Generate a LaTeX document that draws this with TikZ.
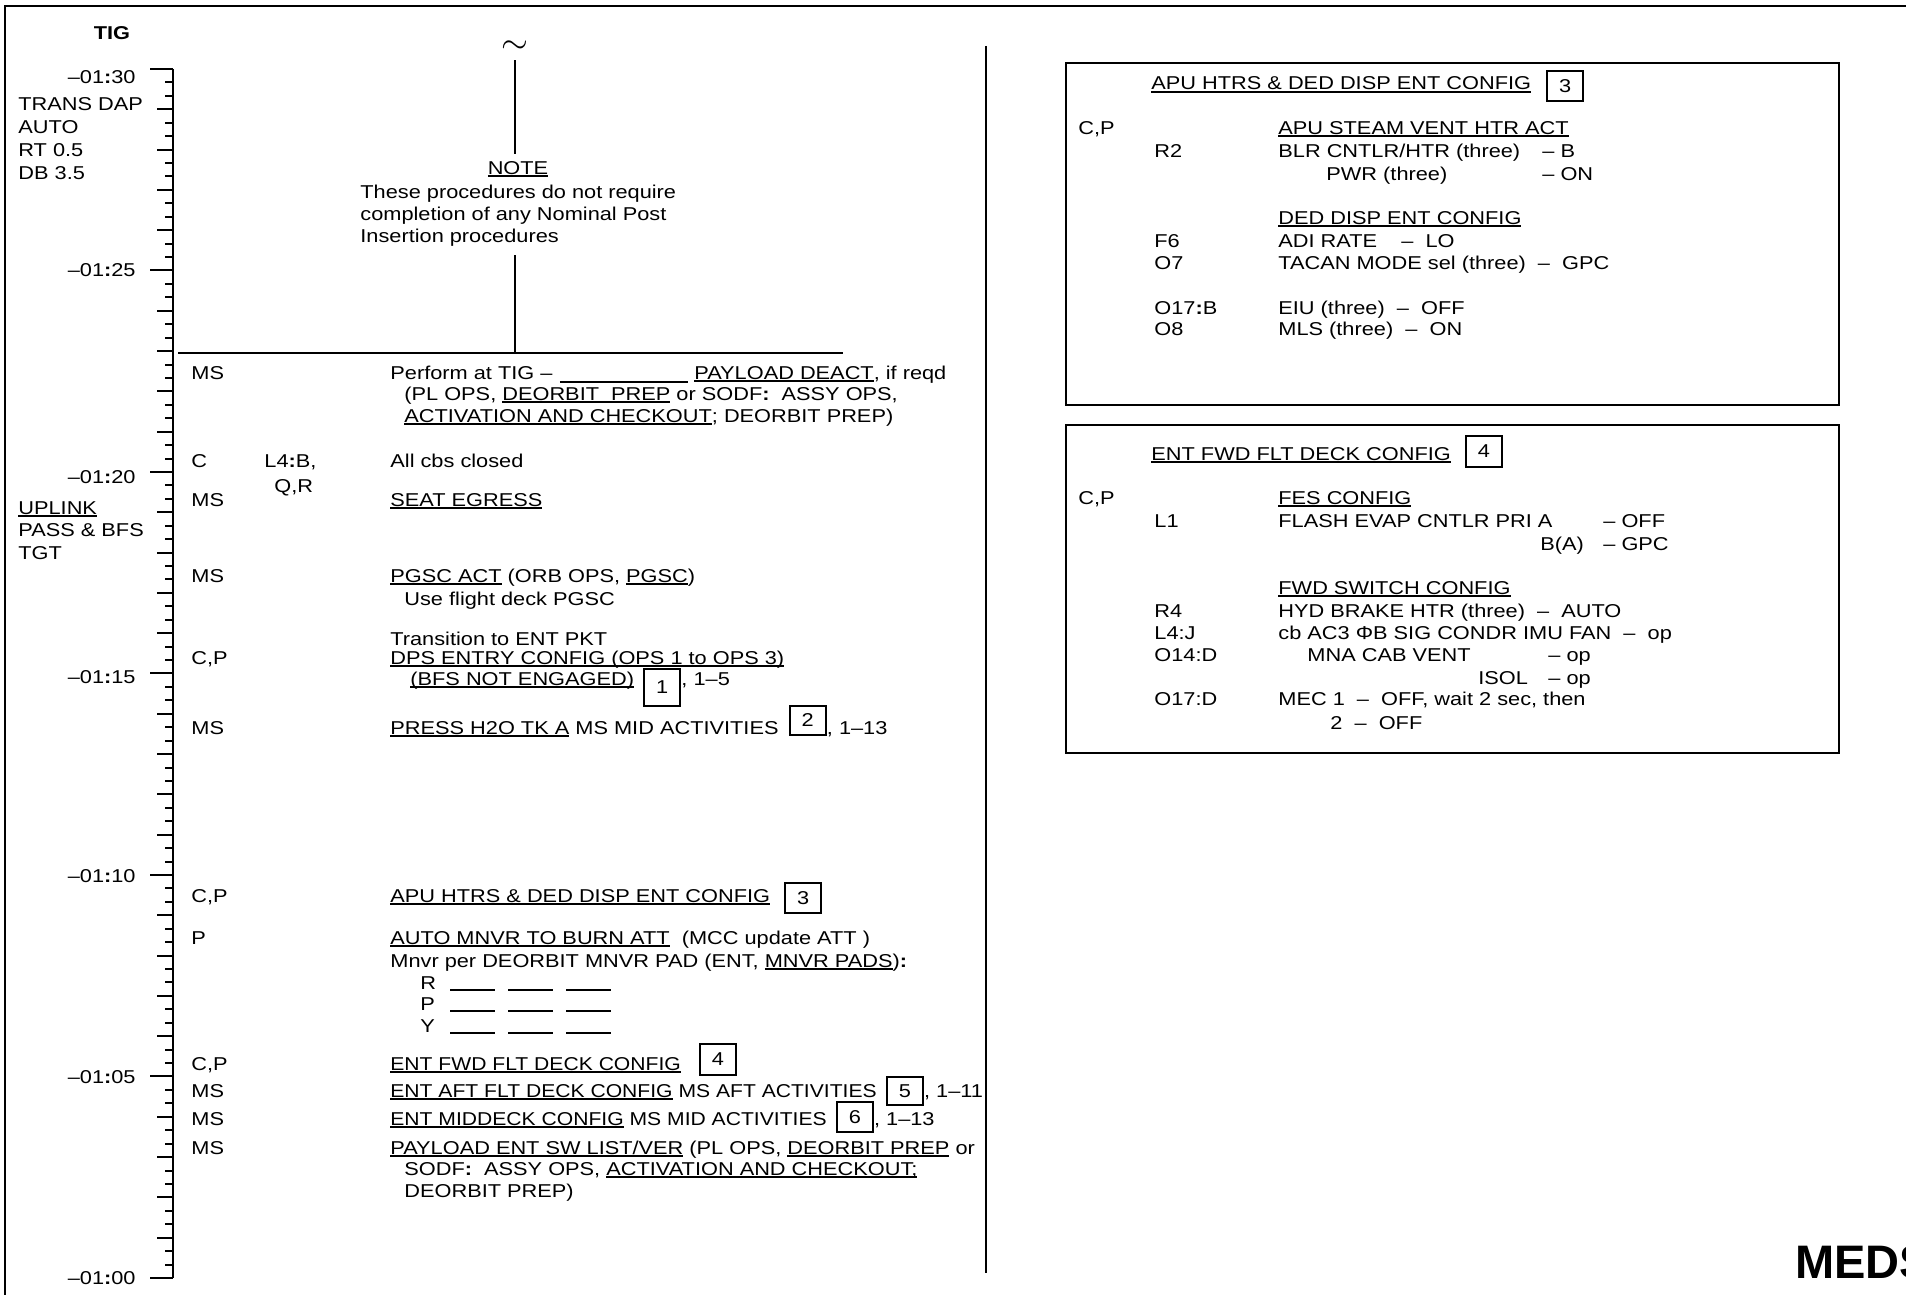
\documentclass[tikz,border=0pt]{standalone}
\usepackage{fontspec}
\setmainfont{Liberation Sans}[FakeStretch=1.17]
\newfontfamily\medsfont{Liberation Sans}
\usepackage{tikz}
\usetikzlibrary{positioning,calc}

% underline at a fixed depth
\newcommand{\und}[1]{\setbox0\hbox{#1}\rlap{\rule[-1.3pt]{\wd0}{0.65pt}}\box0\relax}
\newcommand{\bc}{\textbf{:}}
\newcommand{\dd}{\ \ –\ \ }
\newcommand{\narrow}[1]{\scalebox{0.97}[1]{#1}}

\tikzset{
  txt/.style={anchor=base west, inner sep=0pt, align=left},
  lbl/.style={anchor=east, inner sep=0pt},
  numbox/.style={draw, line width=0.8pt, minimum width=18pt, minimum height=15pt, inner sep=0pt, anchor=west},
  rule/.style={line width=1pt},
}

\begin{document}
\begin{tikzpicture}[x=0.5pt,y=-0.5pt,font=\fontsize{9.3}{11}\selectfont]
\useasboundingbox (0,0) rectangle (1906,1295);
\clip (0,0) rectangle (1906,1295);
% outer frame
\draw[line width=1.2pt] (5,1400) -- (5,6) -- (2000,6);

% time scale
\node[font=\fontsize{9.3}{11}\selectfont\bfseries] (tig) at (112,33) {TIG};
\draw[rule] (173,69) -- (173,1278);
\foreach \i in {0,...,90}{
  \pgfmathsetmacro{\ty}{69+\i*13.433}
  \pgfmathsetmacro{\tl}{ifthenelse(mod(\i,15)==0,23,ifthenelse(mod(\i,3)==0,16,8))}
  \draw[rule] (173-\tl,\ty) -- (173,\ty);
}
\foreach \m/\dy [count=\k from 0] in {30/8,25/0,20/5,15/4,10/1,05/1,00/0}{
  \pgfmathsetmacro{\ly}{69+\k*201.5+\dy}
  \node[lbl] (t\m) at (136,\ly) {–01\bc\m};
}

% notes left of the scale (multi-line nodes sit on their last line)
\node[txt, font=\fontsize{9.3}{11.5}\selectfont] (dap) at (18,179) {TRANS DAP\\AUTO\\RT 0.5\\DB 3.5};
\node[txt, font=\fontsize{9.3}{11.25}\selectfont] (uplink) at (18,559) {\und{UPLINK}\\PASS \& BFS\\TGT};

% note at the top
\node[font=\fontsize{17}{17}\selectfont] (tilde) at (515,47) {$\sim$};
\node (note) at (518,169) {\und{NOTE}};
\node[txt, font=\fontsize{9.3}{10.75}\selectfont] (notebody) at (360,242) {These procedures do not require\\completion of any Nominal Post\\Insertion procedures};
\coordinate (hlw) at (178,353);
\coordinate (hle) at (843,353);
\coordinate (nb) at ($(notebody.south)+(0,9)$);
\draw[rule] (hlw) -- (hle);
\draw[rule] (tilde.south) -- (tilde.south |- note.north);
\draw[rule] (tilde.south |- nb) -- (tilde.south |- hlw);

% procedure column
\node[txt] (ms1) at (191,379) {MS};
\node[txt] (tig1) at (390,379) {Perform at TIG –};
\node[txt] (deact) at (694,379) {\und{PAYLOAD DEACT}, if reqd};
\draw[line width=0.65pt] ($(tig1.base east)+(7,3)$) -- ($(deact.base west)+(-6,3)$);
\node[txt] (plops) at (404,422) {(PL OPS, \und{DEORBIT\ \ PREP} or SODF\bc\ \ ASSY OPS,\\\und{ACTIVATION AND CHECKOUT}; DEORBIT PREP)};

\node[txt] (c1) at (191,467) {C};
\node[txt] (l4b) at (264,467) {L4\bc B,};
\node[txt] (qr) at (274,492) {Q,R};
\node[txt] (cbs) at (390,467) {All cbs closed};
\node[txt] (ms2) at (191,506) {MS};
\node[txt] (egress) at (390,506) {\und{SEAT EGRESS}};

\node[txt] (ms3) at (191,582) {MS};
\node[txt] (pgsc) at (390,582) {\und{PGSC ACT} (ORB OPS, \und{PGSC})};
\node[txt] (pgsc2) at (404,605) {Use flight deck PGSC};
\node[txt] (trans) at (390,645) {Transition to ENT PKT};
\node[txt] (cp1) at (191,664) {C,P};
\node[txt] (dps) at (390,664) {\und{DPS ENTRY CONFIG (OPS 1 to OPS 3)}};
\node[txt] (dps2) at (410,685) {\und{(BFS NOT ENGAGED)}};
\node[numbox, minimum height=18.5pt] (b1) at ($(dps2.base east)+(9,2.5)$) {1};
\node[txt] (dps3) at (b1.east |- dps2.base) {, 1–5};
\node[txt] (ms4) at (191,734) {MS};
\node[txt] (h2o) at (390,734) {\und{PRESS H2O TK A} MS MID ACTIVITIES};
\node[numbox, minimum height=14.5pt] (b2) at ($(h2o.base east)+(10,-13.5)$) {2};
\node[txt] (h2o2) at (b2.east |- h2o.base) {, 1–13};

\node[txt] (cp2) at (191,902) {C,P};
\node[txt] (apu) at (390,902) {\und{APU HTRS \& DED DISP ENT CONFIG}};
\node[numbox] (b3) at ($(apu.base east)+(14,-4)$) {3};
\node[txt] (p1) at (191,944) {P};
\node[txt, font=\fontsize{9.3}{11.5}\selectfont] (mnvr) at (390,967) {\und{AUTO MNVR TO BURN ATT}\ \ (MCC update ATT )\\Mnvr per DEORBIT MNVR PAD (ENT, \und{MNVR PADS})\textbf{:}};
\node[txt, font=\fontsize{9.3}{10.75}\selectfont] (rpy) at (420,1032) {R\\P\\Y};
\foreach \ry in {989,1010,1032}
  \foreach \bx in {450,508,566}
    \draw[line width=0.65pt] (\bx,\ry+1) -- (\bx+45,\ry+1);

\node[txt] (cp3) at (191,1070) {C,P};
\node[txt] (fwd) at (390,1070) {\narrow{\und{ENT FWD FLT DECK CONFIG}}};
\node[numbox, minimum height=15.5pt] (b4) at ($(fwd.base east)+(18,-10.5)$) {4};
\node[txt] (ms5) at (191,1097) {MS};
\node[txt] (aft) at (390,1097) {\narrow{\und{ENT AFT FLT DECK CONFIG} MS AFT ACTIVITIES}};
\node[numbox, minimum height=14pt] (b5) at ($(aft.base east)+(9,-6)$) {5};
\node[txt] (aft2) at (b5.east |- aft.base) {, 1–11};
\node[txt] (ms6) at (191,1125) {MS};
\node[txt] (mid) at (390,1125) {\narrow{\und{ENT MIDDECK CONFIG} MS MID ACTIVITIES}};
\node[numbox] (b6) at ($(mid.base east)+(9,-8)$) {6};
\node[txt] (mid2) at (b6.east |- mid.base) {, 1–13};
\node[txt] (ms7) at (191,1154) {MS};
\node[txt] (plent) at (390,1154) {\und{PAYLOAD ENT SW LIST/VER} (PL OPS, \und{DEORBIT PREP} or};
\node[txt] (plent2) at (404,1197) {SODF\bc\ \ ASSY OPS, \und{ACTIVATION AND CHECKOUT;}\\DEORBIT PREP)};

% divider
\draw[rule] (986,46) -- (986,1273);

% box 3
\draw[line width=1pt] (1066,63) rectangle (1839,405);
\node[txt] (apuh) at (1151,90) {\und{APU HTRS \& DED DISP ENT CONFIG}};
\node[numbox] (rb3) at ($(apuh.base east)+(15,-4)$) {3};
\node[txt] (cp4) at (1078,134) {C,P};
\node[txt] (steam) at (1278,134) {\und{APU STEAM VENT HTR ACT}};
\node[txt] (r2) at (1154,157) {R2};
\node[txt] (blr) at (1278,157) {BLR CNTLR/HTR (three)};
\node[txt] (blrv) at (1542,157) {– B};
\node[txt] (pwr) at (1326,180) {PWR (three)};
\node[txt] (pwrv) at (1542,180) {– ON};
\node[txt] (ded) at (1278,224) {\und{DED DISP ENT CONFIG}};
\node[txt] (f6) at (1154,247) {F6};
\node[txt] (adi) at (1278,247) {ADI RATE\ \ \ \ –\ \ LO};
\node[txt] (o7) at (1154,269) {O7};
\node[txt] (tacan) at (1278,269) {TACAN MODE sel (three)\dd GPC};
\node[txt] (o17b) at (1154,314) {O17\bc B};
\node[txt] (eiu) at (1278,314) {EIU (three)\dd OFF};
\node[txt] (o8) at (1154,335) {O8};
\node[txt] (mls) at (1278,335) {MLS (three)\dd ON};

% box 4
\draw[line width=1pt] (1066,425) rectangle (1839,753);
\node[txt] (fwdh) at (1151,460) {\und{ENT FWD FLT DECK CONFIG}};
\node[numbox, minimum height=15.5pt] (rb4) at ($(fwdh.base east)+(14,-8.5)$) {4};
\node[txt] (cp5) at (1078,504) {C,P};
\node[txt] (fes) at (1278,504) {\und{FES CONFIG}};
\node[txt] (l1) at (1154,527) {L1};
\node[txt] (flash) at (1278,527) {FLASH EVAP CNTLR PRI A};
\node[txt] (flashv) at (1603,527) {– OFF};
\node[txt] (ba) at (1540,550) {B(A)};
\node[txt] (bav) at (1603,550) {– GPC};
\node[txt] (fsw) at (1278,594) {\und{FWD SWITCH CONFIG}};
\node[txt] (r4) at (1154,617) {R4};
\node[txt] (hyd) at (1278,617) {HYD BRAKE HTR (three)\dd AUTO};
\node[txt] (l4j) at (1154,639) {L4:J};
\node[txt] (imu) at (1278,639) {cb AC3 ΦB SIG CONDR IMU FAN\dd op};
\node[txt] (o14d) at (1154,661) {O14:D};
\node[txt] (mna) at (1307,661) {MNA CAB VENT};
\node[txt] (mnav) at (1548,661) {– op};
\node[txt] (isol) at (1478,684) {ISOL};
\node[txt] (isolv) at (1548,684) {– op};
\node[txt] (o17d) at (1154,705) {O17:D};
\node[txt] (mec) at (1278,705) {MEC 1\dd OFF, wait 2 sec, then};
\node[txt] (mec2) at (1330,729) {2\dd OFF};

% page mark
\node[txt, font=\medsfont\fontsize{23.5}{28}\selectfont\bfseries] (meds) at (1795,1278) {MEDS};
\end{tikzpicture}
\end{document}
